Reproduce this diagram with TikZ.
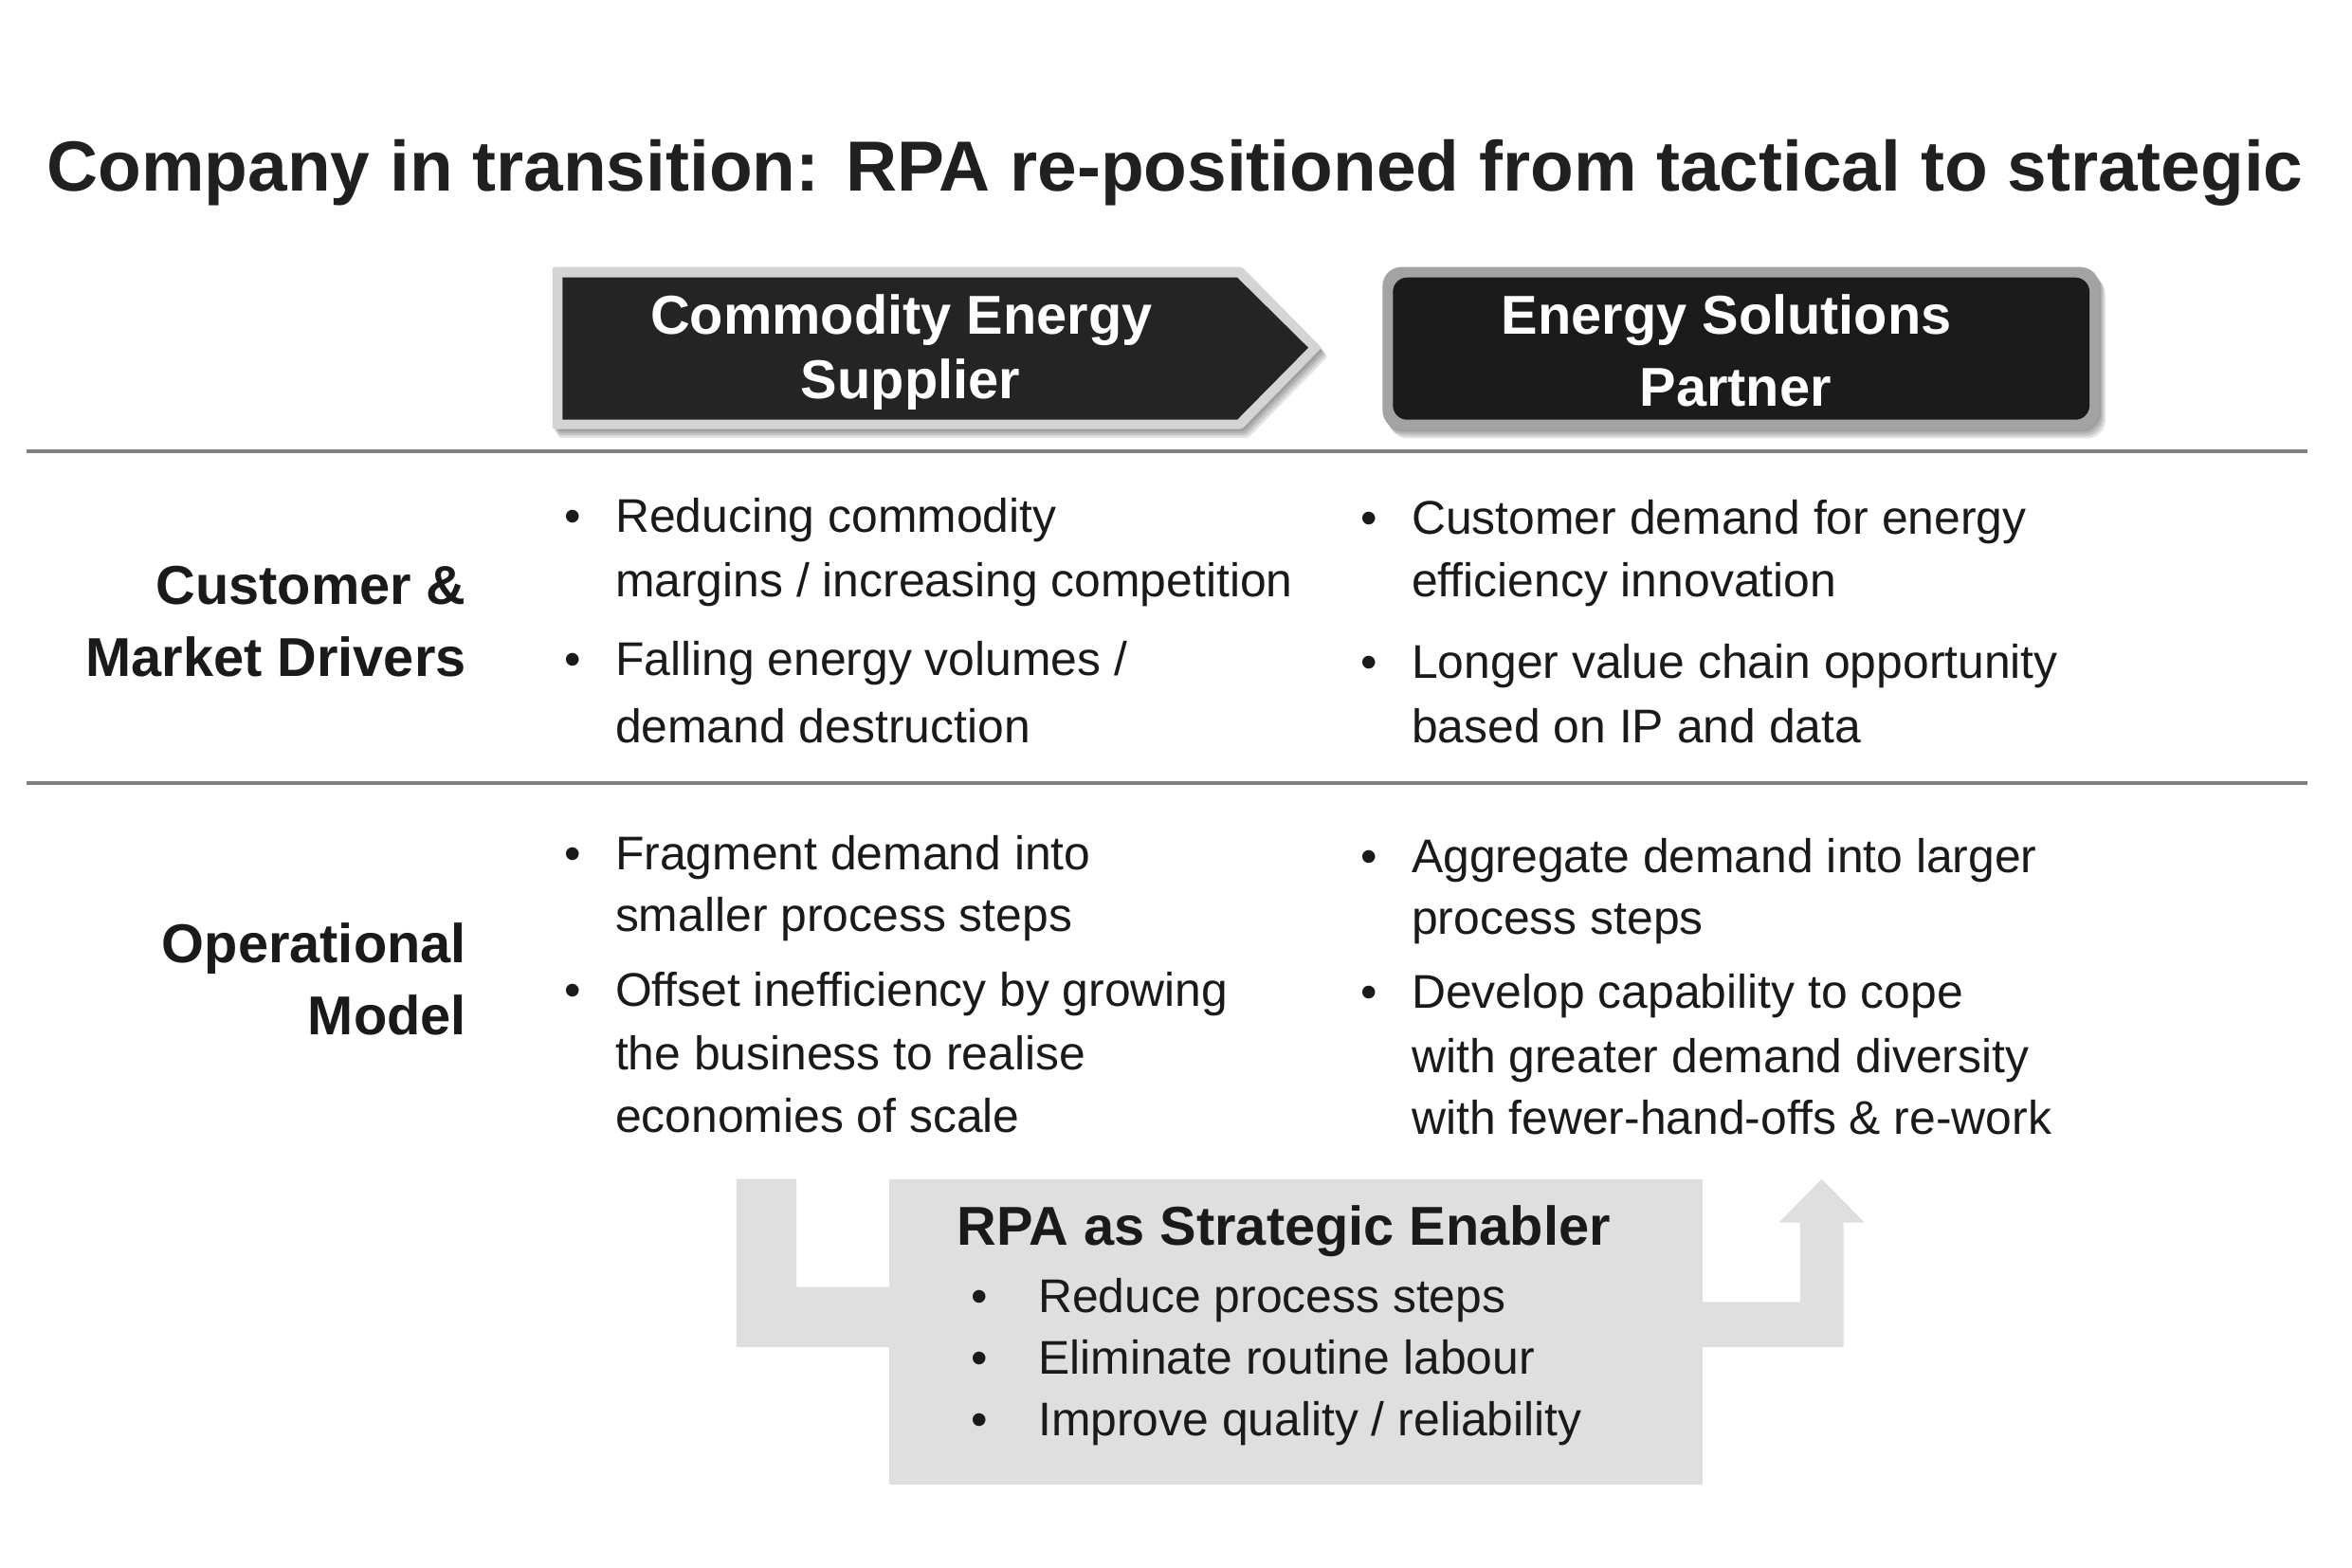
\documentclass[tikz,border=0pt]{standalone}
\usepackage{fontspec}
\setmainfont{Liberation Sans}
\definecolor{txt}{HTML}{1A1A1A}
\definecolor{ttl}{HTML}{202020}
\definecolor{rulec}{HTML}{7F7F7F}
\definecolor{chevout}{HTML}{D4D4D4}
\definecolor{chevin}{HTML}{242424}
\definecolor{boxout}{HTML}{A3A3A3}
\definecolor{boxin}{HTML}{1B1B1B}
\definecolor{rpafill}{HTML}{DFDFDF}
\begin{document}
\begin{tikzpicture}[x=1pt,y=-1pt,
  body/.style={anchor=base west,inner sep=0,font=\fontsize{31.5}{36}\selectfont,text=txt},
  bul/.style={anchor=base,inner sep=0,font=\fontsize{31.5}{36}\selectfont,text=txt},
  lbl/.style={anchor=base east,inner sep=0,font=\fontsize{36.5}{42}\selectfont\bfseries,text=txt},
  head/.style={anchor=base,inner sep=0,font=\fontsize{36.5}{42}\selectfont\bfseries,text=white},
  rpatitle/.style={anchor=base west,inner sep=0,font=\fontsize{36.5}{42}\selectfont\bfseries,text=txt},
  titlestyle/.style={anchor=base,inner sep=0,font=\fontsize{47.3}{52}\selectfont\bfseries,text=ttl},
  sep/.style={draw=rulec,line width=2.7pt},
  shade/.style={fill=black,opacity=0.11}
]
\useasboundingbox[fill=white] (0,0) rectangle (1568,1045.33);

% title
\node[titlestyle] (title) at (783.4,127.5) {Company in transition: RPA re-positioned from tactical to strategic};

% left chevron with shadow
\foreach \d in {1.5,3,4.5,6}
  \fill[shade,rounded corners=1.5pt] ([shift={(\d*0.7,\d)}]368.3,178) -- ([shift={(\d*0.7,\d)}]828,178) -- ([shift={(\d*0.7,\d)}]881,231.8) -- ([shift={(\d*0.7,\d)}]828,286) -- ([shift={(\d*0.7,\d)}]368.3,286) -- cycle;
\fill[chevout,rounded corners=1.5pt] (368.3,178) -- (828,178) -- (881,231.8) -- (828,286) -- (368.3,286) -- cycle;
\fill[chevin] (375,185) -- (824.8,185) -- (872.2,231.8) -- (824.8,279.8) -- (375,279.8) -- cycle;
\node[head] (c1a) at (601,223) {Commodity Energy};
\node[head] (c1b) at (607,266) {Supplier};

% right box with shadow
\foreach \d in {1.5,3,4.5,6}
  \fill[shade,rounded corners=12.6pt] ([shift={(\d*0.7,\d)}]921.7,178) rectangle ([shift={(\d*0.7,\d)}]1399.5,286.3);
\fill[boxout,rounded corners=12.6pt] (921.7,178) rectangle (1399.5,286.3);
\fill[boxin,rounded corners=9.5pt] (928.6,185) rectangle (1393,279.8);
\node[head] (c2a) at (1151,223) {Energy Solutions};
\node[head] (c2b) at (1157,271) {Partner};

% separators
\coordinate (s1l) at (18,301); \coordinate (s1r) at (1538,301);
\coordinate (s2l) at (18,522); \coordinate (s2r) at (1538,522);
\draw[sep] (s1l) -- (s1r);
\draw[sep] (s2l) -- (s2r);

% row labels
\node[lbl] (r1a) at (311,403) {Customer \&};
\node[lbl] (r1b) at (311,451) {Market Drivers};
\node[lbl] (r2a) at (311,642) {Operational};
\node[lbl] (r2b) at (311,690) {Model};

% row 1, column 1
\node[bul] (b11) at (382,355) {•};
\node[body] (t11a) at (410,355) {Reducing commodity};
\node[body] (t11b) at (410,398) {margins / increasing competition};
\node[bul] (b12) at (382,450) {•};
\node[body] (t12a) at (410,450) {Falling energy volumes /};
\node[body] (t12b) at (410,495) {demand destruction};

% row 1, column 2
\node[bul] (b21) at (913,356) {•};
\node[body] (t21a) at (941,356) {Customer demand for energy};
\node[body] (t21b) at (941,398) {efficiency innovation};
\node[bul] (b22) at (913,452) {•};
\node[body] (t22a) at (941,452) {Longer value chain opportunity};
\node[body] (t22b) at (941,495) {based on IP and data};

% row 2, column 1
\node[bul] (b31) at (382,580) {•};
\node[body] (t31a) at (410,580) {Fragment demand into};
\node[body] (t31b) at (410,621) {smaller process steps};
\node[bul] (b32) at (382,671) {•};
\node[body] (t32a) at (410,671) {Offset inefficiency by growing};
\node[body] (t32b) at (410,713) {the business to realise};
\node[body] (t32c) at (410,755) {economies of scale};

% row 2, column 2
\node[bul] (b41) at (913,582) {•};
\node[body] (t41a) at (941,582) {Aggregate demand into larger};
\node[body] (t41b) at (941,623) {process steps};
\node[bul] (b42) at (913,672) {•};
\node[body] (t42a) at (941,672) {Develop capability to cope};
\node[body] (t42b) at (941,715) {with greater demand diversity};
\node[body] (t42c) at (941,756) {with fewer-hand-offs \& re-work};

% RPA enabler
\fill[rpafill] (491,786) -- (531,786) -- (531,858) -- (593,858) -- (593,898) -- (491,898) -- cycle;
\fill[rpafill] (1135,868) -- (1200,868) -- (1200,815) -- (1186,815) -- (1214.5,786) -- (1243,815) -- (1229,815) -- (1229,898) -- (1135,898) -- cycle;
\fill[rpafill] (593,786) rectangle (1135,990);
\node[rpatitle] (rt) at (638,830) {RPA as Strategic Enabler};
\node[bul] (rb1) at (653,875) {•};
\node[body] (rx1) at (692,875) {Reduce process steps};
\node[bul] (rb2) at (653,916) {•};
\node[body] (rx2) at (692,916) {Eliminate routine labour};
\node[bul] (rb3) at (653,957) {•};
\node[body] (rx3) at (692,957) {Improve quality / reliability};
\end{tikzpicture}
\end{document}
